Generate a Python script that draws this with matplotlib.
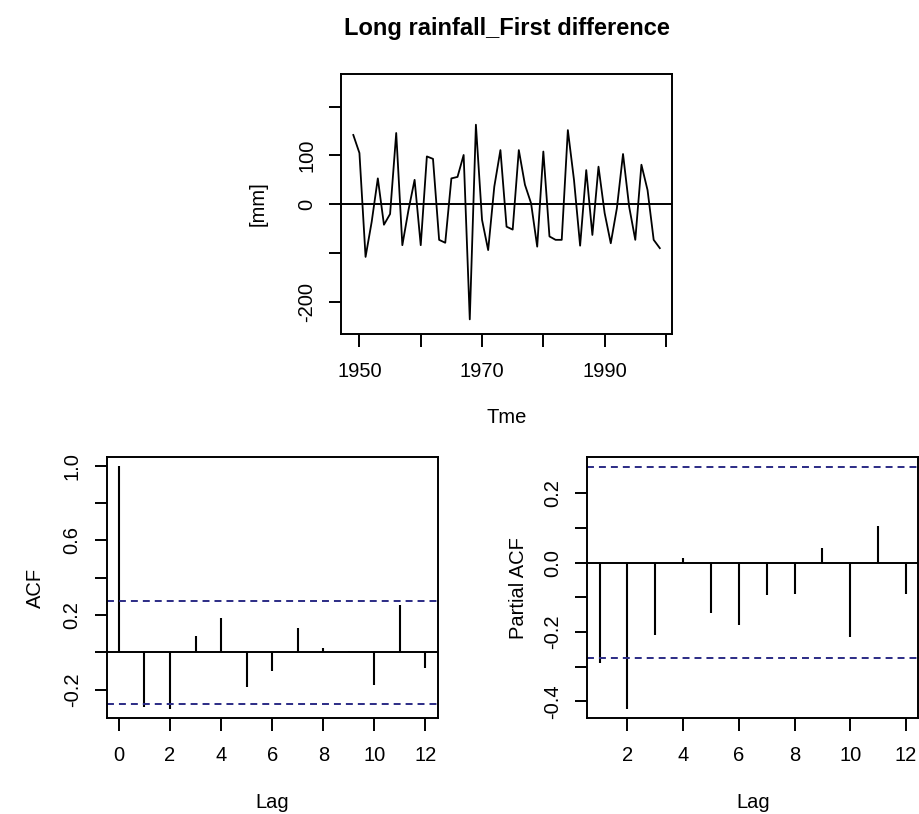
import matplotlib
matplotlib.use("Agg")
import matplotlib.pyplot as plt

plt.rcParams['font.family'] = ['Liberation Sans', 'DejaVu Sans']
plt.rcParams['lines.scale_dashes'] = False

# first difference of the long rainfall series, 1949-1999 [mm]
years = list(range(1949, 2000))
diff_mm = [142, 105, -108, -36, 53, -42, -20, 146, -84, -12,
           50, -84, 98, 93, -73, -79, 53, 56, 101, -236,
           163, -32, -94, 36, 111, -46, -52, 111, 40, 2,
           -87, 108, -66, -73, -73, 152, 50, -85, 70, -63,
           77, -18, -80, -8, 103, -5, -73, 81, 29, -73, -90]

# sample ACF (lag 0..12) and PACF (lag 1..12)
acf_lags = list(range(0, 13))
acf_vals = [1.0, -0.292, -0.306, 0.087, 0.183, -0.189, -0.10, 0.132, 0.025, 0.004, -0.176, 0.251, -0.082]
pacf_lags = list(range(1, 13))
pacf_vals = [-0.289, -0.421, -0.208, 0.014, -0.146, -0.18, -0.094, -0.089, 0.043, -0.215, 0.105, -0.089]
conf_bound = 0.275

FS = 14.5
LINE_W = 1.4
CI_COLOR = '#2b2b85'


def style_axes(ax):
    for s in ax.spines.values():
        s.set_linewidth(LINE_W)
    ax.tick_params(direction='out', length=9, width=LINE_W, labelsize=FS, pad=11)
    ax.tick_params(axis='y', labelrotation=90, pad=9)
    for t in ax.get_yticklabels():
        t.set_va('center')


def set_labels(ax, xlab, ylab, xpos, ypos):
    ax.set_xlabel(xlab, fontsize=FS)
    ax.set_ylabel(ylab, fontsize=FS)
    ax.xaxis.set_label_coords(0.5, xpos)
    ax.yaxis.set_label_coords(ypos, 0.5)
    ax.xaxis.label.set_va('center')
    ax.yaxis.label.set_va('center')


def draw_series(fig):
    ax = fig.add_axes([0.3711, 0.5897, 0.3602, 0.3194])
    ax.plot(years, diff_mm, color='black', linewidth=1.3)
    ax.axhline(0, color='black', linewidth=1.4)
    ax.set_xlim(1947, 2001)
    ax.set_ylim(-266, 267)
    ax.set_xticks([1950, 1960, 1970, 1980, 1990, 2000])
    ax.set_xticklabels(['1950', '', '1970', '', '1990', ''])
    ax.set_yticks([-200, -100, 0, 100, 200])
    ax.set_yticklabels(['-200', '', '0', '100', ''])
    style_axes(ax)
    set_labels(ax, 'Tme', '[mm]', -0.323, -0.251)


def draw_acf(fig):
    ax = fig.add_axes([0.1161, 0.1176, 0.3602, 0.3206])
    ax.vlines(acf_lags, 0, acf_vals, color='black', linewidth=1.5)
    ax.axhline(0, color='black', linewidth=1.4)
    ax.axhline(conf_bound, color=CI_COLOR, linewidth=1.4, linestyle=(0, (5, 3.6)))
    ax.axhline(-conf_bound, color=CI_COLOR, linewidth=1.4, linestyle=(0, (5, 3.6)))
    ax.set_xlim(-0.48, 12.48)
    ax.set_ylim(-0.354, 1.045)
    ax.set_xticks([0, 2, 4, 6, 8, 10, 12])
    ax.set_yticks([-0.2, 0.0, 0.2, 0.4, 0.6, 0.8, 1.0])
    ax.set_yticklabels(['-0.2', '', '0.2', '', '0.6', '', '1.0'])
    style_axes(ax)
    set_labels(ax, 'Lag', 'ACF', -0.3245, -0.2166)


def draw_pacf(fig):
    ax = fig.add_axes([0.639, 0.1176, 0.3602, 0.3206])
    ax.vlines(pacf_lags, 0, pacf_vals, color='black', linewidth=1.5)
    ax.axhline(0, color='black', linewidth=1.4)
    ax.axhline(conf_bound, color=CI_COLOR, linewidth=1.4, linestyle=(0, (5, 3.6)))
    ax.axhline(-conf_bound, color=CI_COLOR, linewidth=1.4, linestyle=(0, (5, 3.6)))
    ax.set_xlim(0.56, 12.44)
    ax.set_ylim(-0.449, 0.304)
    ax.set_xticks([2, 4, 6, 8, 10, 12])
    ax.set_yticks([-0.4, -0.3, -0.2, -0.1, 0.0, 0.1, 0.2])
    ax.set_yticklabels(['-0.4', '', '-0.2', '', '0.0', '', '0.2'])
    style_axes(ax)
    set_labels(ax, 'Lag', 'Partial ACF', -0.3245, -0.209)


def main():
    fig = plt.figure(figsize=(9.19, 8.14), dpi=100)
    fig.patch.set_facecolor('white')
    draw_series(fig)
    draw_acf(fig)
    draw_pacf(fig)
    fig.text(0.5511, 1 - 29 / 814, 'Long rainfall_First difference',
             ha='center', va='center', fontsize=17, fontweight='bold')
    fig.savefig('out.png', dpi=100)


if __name__ == "__main__":
    main()
